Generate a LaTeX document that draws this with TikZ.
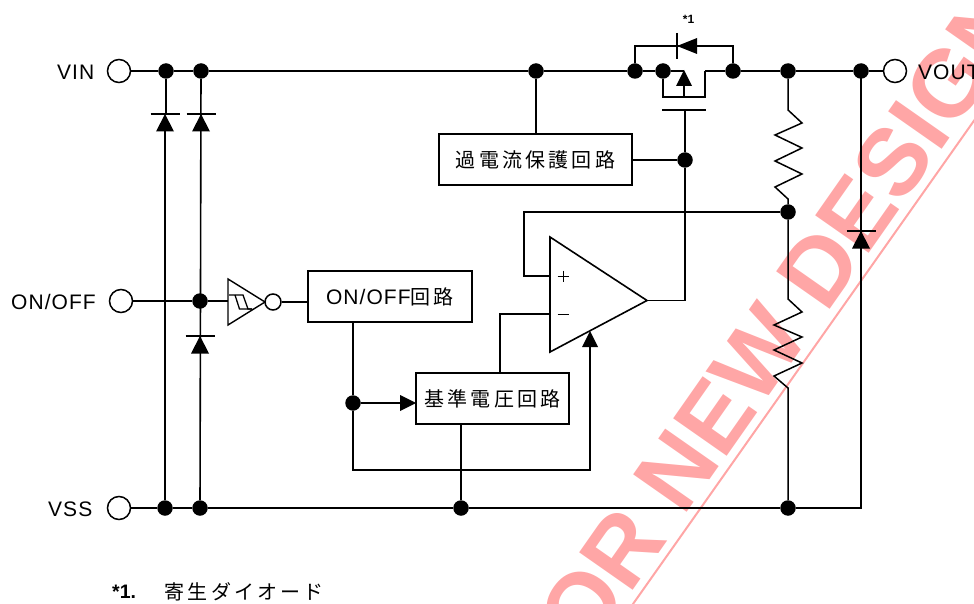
\documentclass[tikz,border=0pt]{standalone}
\usepackage{fontspec}
\setmainfont{Liberation Sans}
\newfontfamily\lat[LetterSpace=5]{Liberation Sans}
\newfontfamily\jp[LetterSpace=16]{Noto Sans CJK JP}
\newfontfamily\wm{Liberation Sans}[BoldFont={Liberation Sans Bold}]
\definecolor{wmred}{HTML}{FFA6A6}
\tikzset{
  wire/.style={draw=black,line width=1.6pt,line join=miter},
  thin wire/.style={draw=black,line width=1.3pt,line join=miter},
  dot/.style={circle,fill=black,draw=none,inner sep=0pt,minimum size=15.5pt},
  term/.style={circle,draw=black,fill=white,line width=1.5pt,inner sep=0pt,minimum size=23pt},
  block/.style={draw=black,fill=white,line width=1.6pt,inner sep=0pt,font=\fontsize{20}{24}\selectfont},
  lbl/.style={inner sep=0pt,font=\lat\fontsize{21}{24}\selectfont},
  head/.style={fill=black,draw=none},
}
\newcommand{\drop}[1]{\raisebox{-2pt}{#1}}
\begin{document}
\begin{tikzpicture}[x=1pt,y=-1pt]
\useasboundingbox (0,0) rectangle (974,604);
% terminals and junctions
\node[term] (vin) at (119,71) {};
\node[term] (onoff) at (121,301) {};
\node[term] (vss) at (119,508) {};
\node[term] (vout) at (895,71) {};
\node[lbl,anchor=base east] (tvin) at (94.5,79.5) {VIN};
\node[lbl,anchor=base east] (tonoff) at (96,309) {ON/OFF};
\node[lbl,anchor=base east] (tvss) at (92.5,516.5) {VSS};
\node[lbl,anchor=base west] (tvout) at (918,79.5) {VOUT};
\foreach \n/\x/\y in {a1/166/71,a2/201/71,a3/536/71,a4/635/71,a5/663/71,a6/733/71,a7/788/71,a8/861/71,
  b1/165/508,b2/200/508,b3/461/508,b4/788/508,c1/200/301,d1/685/160,d2/788/212,e1/353/403}
  \node[dot] (\n) at (\x,\y) {};
% blocks
\node[block,minimum width=193pt,minimum height=51pt] (ocp) at (535.5,159.5) {\drop{\jp 過電流保護回路}};
\node[block,minimum width=164pt,minimum height=51pt] (onb) at (390,296.5) {\drop{\fontsize{21}{24}\lat ON/OFF\fontsize{20}{24}\jp 回路}};
\node[block,minimum width=153pt,minimum height=51pt] (ref) at (492.5,398.5) {\drop{\jp 基準電圧回路}};
% free coordinates
\coordinate (ampP) at (550,276);
\coordinate (ampM) at (550,314);
\coordinate (ampO) at (647,300.5);
% main rails
\draw[wire] (vin) -- (a1) -- (a2) -- (a3) -- (a4) -- (a5) -- (684,71);
\draw[wire] (705,71) -- (a6) -- (a7) -- (a8) -- (vout);
\draw[wire] (vss) -- (b1) -- (b2) -- (b3) -- (b4) -- (861,508) -- (861,71);
\draw[wire] (a1) -- (166,114) (165,131) -- (b1);
\draw[wire] (a2) -- (b2);
\draw[wire] (onoff) -- (c1) -- (228,301);
% diodes on rails
\foreach \x/\y in {165/114,201/114,200/336,861/231}{
  \draw[wire] (\x-14.5,\y) -- (\x+14.5,\y);
  \fill[head] (\x,\y) -- (\x+9,\y+17.5) -- (\x-9,\y+17.5) -- cycle;
}
% MOSFET and body diode
\draw[wire] (a4) -- (635,46) -- (733,46) -- (a6);
\draw[wire] (677,33) -- (677,59);
\fill[head] (677,46) -- (697,38) -- (697,54) -- cycle;
\draw[wire] (a5) -- (663,97) -- (705,97) -- (705,71);
\draw[wire] (684,97) -- (684,85);
\fill[head] (684,70) -- (692,86) -- (676,86) -- cycle;
\draw[wire] (662,110) -- (706,110);
\draw[wire] (685,110) -- (d1) -- (685,300.5) -- (ampO);
\draw[wire] (a3) -- (ocp.north -| a3);
\draw[wire] (ocp.east |- d1) -- (d1);
% resistors
\draw[wire,line width=1.5pt] (a7) -- (788,110) -- (802,123) -- (775,135) -- (802,148) -- (775,161) -- (802,174) -- (775,187) -- (788,199) -- (d2);
\draw[wire,line width=1.5pt] (d2) -- (788,299) -- (802,312) -- (774,325) -- (802,337) -- (774,350) -- (802,363) -- (774,376) -- (788,388) -- (b4);
% op amp
\draw[wire,fill=white] (550,237) -- (ampO) -- (550,352) -- cycle;
\draw[thin wire,line width=1pt] (557.5,276) -- (568.5,276) (563,270.5) -- (563,281.5);
\draw[thin wire,line width=1pt] (557.5,314) -- (568.5,314);
\draw[wire] (ampP) -- (524,276) -- (524,212) -- (d2);
\draw[wire] (ampM) -- (500,314) -- (500,373);
% bias path
\draw[wire] (353,322) -- (e1) -- (353,470) -- (590,470) -- (590,345);
\fill[head] (590,331) -- (598,347) -- (582,347) -- cycle;
\draw[wire] (e1) -- (402,403);
\fill[head] (416,403) -- (400,395) -- (400,411) -- cycle;
\draw[wire] (461,424) -- (b3);
% Schmitt inverter
\node[circle,draw=black,fill=white,line width=1.5pt,inner sep=0pt,minimum size=16pt] (bub) at (273,302) {};
\draw[thin wire,line width=1.4pt] (228,279) -- (265,302) -- (228,325) -- cycle;
\draw[thin wire] (229,295) -- (243,295) -- (248,309) -- (252,309);
\draw[thin wire] (235,295) -- (239.5,309) -- (252,309);
\draw[wire] (bub) -- (onb.west |- bub);
% notes
\node[inner sep=0pt,font=\bfseries\fontsize{12}{14}\selectfont] (star) at (688.5,19) {*1};
\node[inner sep=0pt,anchor=base west,font=\bfseries\fontsize{19.5}{22}\selectfont] (n1) at (112,598) {*1.};
\node[inner sep=0pt,anchor=base west,font=\jp\fontsize{20}{24}\selectfont] (n2) at (164.5,599) {寄生ダイオード};
% watermark
\begin{scope}[blend mode=multiply]
\clip (0,0) rectangle (974,604);
\node[inner sep=0pt,anchor=base west,rotate=55,text=wmred,font=\wm\bfseries\fontsize{95}{100}\selectfont] (mark) at (587,656) {OR NEW DESIGN};
\draw[wmred,line width=2pt] (620,622.4) -- (990,98);
\end{scope}
\end{tikzpicture}
\end{document}
